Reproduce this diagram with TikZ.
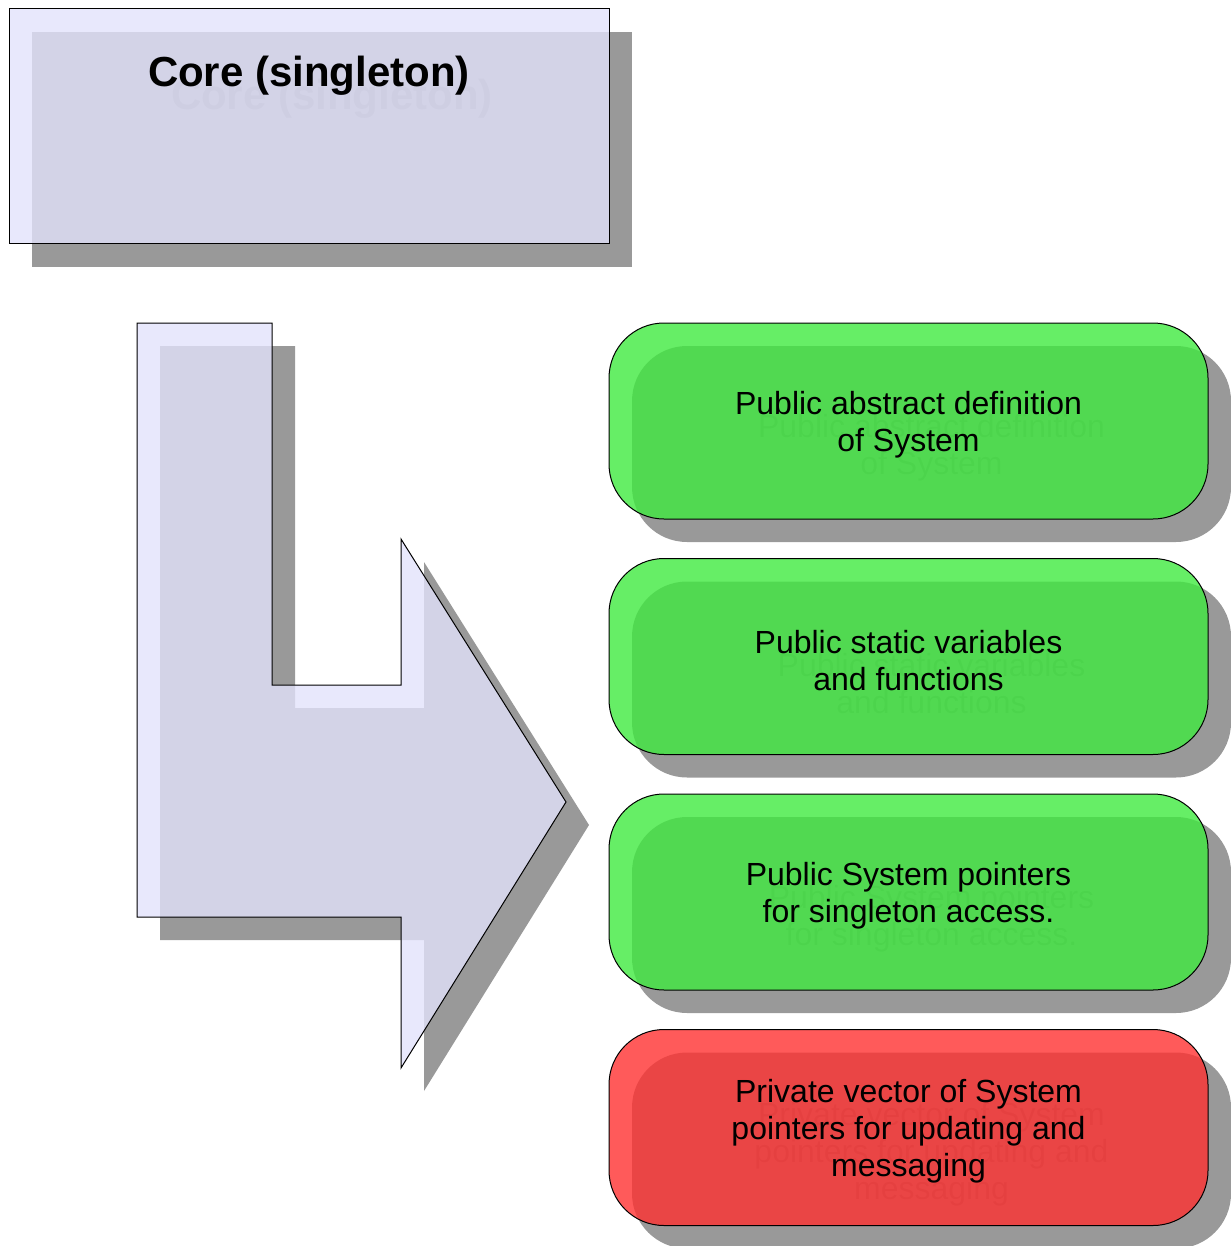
\documentclass[tikz,border=0pt]{standalone}
\usepackage{fontspec}
\setmainfont{Liberation Sans}

\definecolor{lavender}{RGB}{226,226,251}
\definecolor{boxgreen}{RGB}{64,234,64}
\definecolor{boxred}{RGB}{255,49,49}
\definecolor{shadegray}{RGB}{153,153,153}

\tikzset{
  shade/.style={fill=shadegray, draw=none},
  ghost/.style={text=black!50},
  glass/.style={fill opacity=0.8, text opacity=1, draw=black, line width=1pt},
  box/.style={rectangle, rounded corners=55pt, minimum width=599pt, minimum height=196pt, inner sep=0pt},
  boxtext/.style={inner sep=0pt, align=center, font=\fontsize{32}{37}\selectfont},
  corebox/.style={rectangle, minimum width=600pt, minimum height=235pt, inner sep=0pt},
  title/.style={anchor=base, inner sep=0pt, font=\bfseries\fontsize{42}{48}\selectfont},
}

\begin{document}
\begin{tikzpicture}[x=1pt, y=-1pt]
            \useasboundingbox (0,0) rectangle (1230,1246);

            % core
            \node[corebox, shade] (core-sh) at (332,149.5) {};
            \node[title, ghost] (coretitle-sh) at (332,110) {Core (singleton)};
            \node[corebox, glass, fill=lavender] (core) at (309,126.5) {};
            \node[title] (coretitle) at (309,87) {Core (singleton)};

            % bent arrow
            \fill[shadegray, shift={(23,23)}] (137,323) -- (272,323) -- (272,685) -- (401,685) -- (401,539)
                -- (566,802) -- (401,1068) -- (401,917) -- (137,917) -- cycle;
            \draw[glass, fill=lavender] (137,323) -- (272,323) -- (272,685) -- (401,685) -- (401,539)
                -- (566,802) -- (401,1068) -- (401,917) -- (137,917) -- cycle;

            % public parts
            \node[box, shade] (pubdef-sh) at (931.5,444) {};
            \node[boxtext, ghost] (pubdef-gh) at (931.5,448) {Public abstract definition\\of System};
            \node[box, glass, fill=boxgreen] (pubdef) at (908.5,421) {};
            \node[boxtext] (pubdef-txt) at (908.5,425) {Public abstract definition\\of System};

            \node[box, shade] (pubstatic-sh) at (931.5,679.5) {};
            \node[boxtext, ghost] (pubstatic-gh) at (931.5,683.5) {Public static variables\\and functions};
            \node[box, glass, fill=boxgreen] (pubstatic) at (908.5,656.5) {};
            \node[boxtext] (pubstatic-txt) at (908.5,660.5) {Public static variables\\and functions};

            \node[box, shade] (pubptr-sh) at (931.5,915) {};
            \node[boxtext, ghost] (pubptr-gh) at (931.5,919) {Public System pointers\\for singleton access.};
            \node[box, glass, fill=boxgreen] (pubptr) at (908.5,892) {};
            \node[boxtext] (pubptr-txt) at (908.5,896) {Public System pointers\\for singleton access.};

            % private part
            \node[box, shade] (privvec-sh) at (931.5,1150.5) {};
            \node[boxtext, ghost] (privvec-gh) at (931.5,1154.5) {Private vector of System\\pointers for updating and\\messaging};
            \node[box, glass, fill=boxred] (privvec) at (908.5,1127.5) {};
            \node[boxtext] (privvec-txt) at (908.5,1131.5) {Private vector of System\\pointers for updating and\\messaging};
        \end{tikzpicture}
\end{document}
